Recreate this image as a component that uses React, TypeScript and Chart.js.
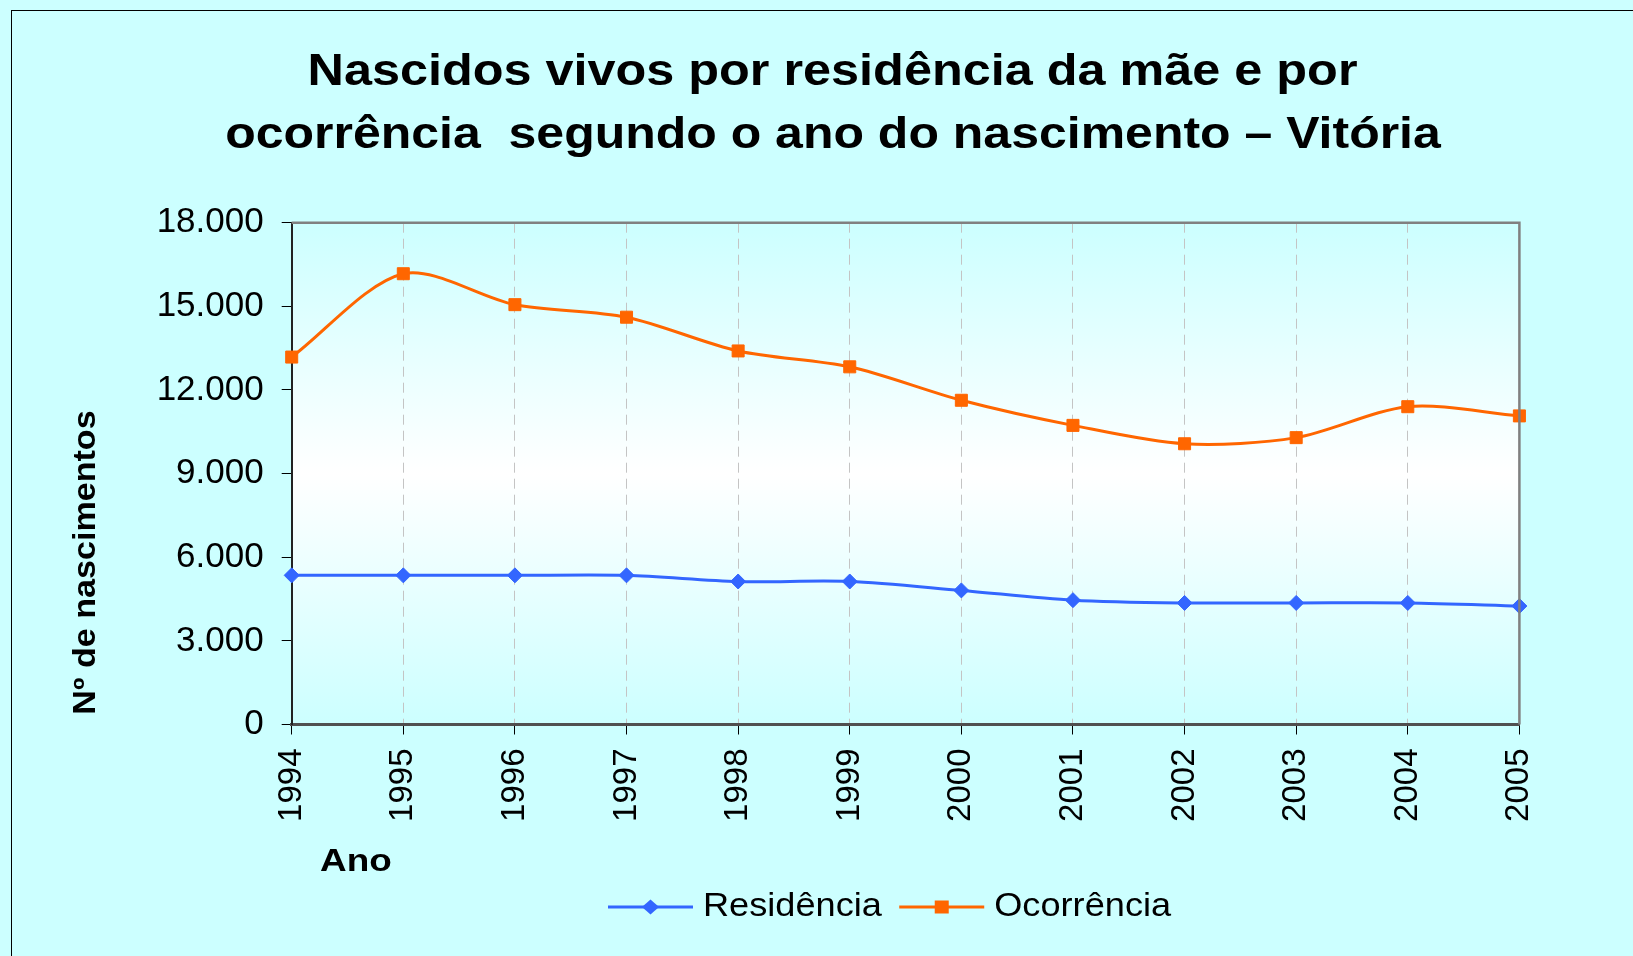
import React, { useEffect, useRef } from 'react';
import { Chart, registerables } from 'chart.js';

Chart.register(...registerables);

// ---- data ----
const years = ['1994', '1995', '1996', '1997', '1998', '1999', '2000', '2001', '2002', '2003', '2004', '2005'];
const residencia = [5350, 5350, 5350, 5350, 5130, 5130, 4810, 4460, 4360, 4360, 4360, 4250];
const ocorrencia = [13180, 16170, 15060, 14610, 13400, 12830, 11630, 10730, 10070, 10290, 11400, 11070];
const yTickLabels = ['0', '3.000', '6.000', '9.000', '12.000', '15.000', '18.000'];
const seriesNames = ['Residência', 'Ocorrência'];
const titleLines = ['Nascidos vivos por residência da mãe e por', 'ocorrência  segundo o ano do nascimento – Vitória'];
const yAxisTitle = 'Nº de nascimentos';
const xAxisTitle = 'Ano';

const FONT = '"Liberation Sans", Arial, sans-serif';
const W = 1633;
const H = 956;

function drawStretched(
  ctx: CanvasRenderingContext2D,
  text: string,
  x: number,
  y: number,
  font: string,
  sx: number,
  align: CanvasTextAlign,
  rotate = false
) {
  ctx.save();
  ctx.font = font;
  ctx.fillStyle = '#000';
  ctx.textBaseline = 'alphabetic';
  ctx.textAlign = align;
  ctx.translate(x, y);
  if (rotate) ctx.rotate(-Math.PI / 2);
  ctx.scale(sx, 1);
  ctx.fillText(text, 0, 0);
  ctx.restore();
}

function drawMarker(ctx: CanvasRenderingContext2D, style: string, cx: number, cy: number, color: string) {
  ctx.save();
  ctx.fillStyle = color;
  ctx.beginPath();
  if (style === 'rectRot') {
    ctx.moveTo(cx - 8.5, cy);
    ctx.lineTo(cx, cy - 7.5);
    ctx.lineTo(cx + 8.5, cy);
    ctx.lineTo(cx, cy + 7.5);
    ctx.closePath();
  } else {
    ctx.rect(cx - 7, cy - 6.5, 14, 13);
  }
  ctx.fill();
  ctx.restore();
}

const decorPlugin = {
  id: 'decor',
  beforeDraw(chart: any) {
    const { ctx, width, height, chartArea: a } = chart;
    ctx.save();
    ctx.fillStyle = '#CCFFFF';
    ctx.fillRect(0, 0, width, height);
    ctx.strokeStyle = '#000';
    ctx.lineWidth = 1;
    ctx.strokeRect(11.5, 10.5, width + 50, height + 50);
    const g = ctx.createLinearGradient(0, a.top, 0, a.bottom);
    g.addColorStop(0, '#CCFFFF');
    g.addColorStop(0.5, '#FFFFFF');
    g.addColorStop(1, '#CCFFFF');
    ctx.fillStyle = g;
    ctx.fillRect(a.left, a.top, a.right - a.left, a.bottom - a.top);
    ctx.restore();
  },
  afterDraw(chart: any) {
    const { ctx, chartArea: a } = chart;
    // top and right frame of plot area
    ctx.save();
    ctx.strokeStyle = '#808080';
    ctx.lineWidth = 2.5;
    ctx.beginPath();
    ctx.moveTo(a.left, a.top);
    ctx.lineTo(a.right, a.top);
    ctx.lineTo(a.right, a.bottom);
    ctx.stroke();
    ctx.restore();

    // title
    drawStretched(ctx, titleLines[0], 832.5, 85, `bold 44px ${FONT}`, 1.145, 'center');
    drawStretched(ctx, titleLines[1], 833, 148, `bold 44px ${FONT}`, 1.136, 'center');

    // axis titles
    drawStretched(ctx, yAxisTitle, 95, 562.5, `bold 31px ${FONT}`, 1.1, 'center', true);
    drawStretched(ctx, xAxisTitle, 320, 870.7, `bold 31px ${FONT}`, 1.19, 'left');

    // legend
    let x = 608;
    const y = 907;
    chart.data.datasets.forEach((ds: any) => {
      ctx.save();
      ctx.strokeStyle = ds.borderColor;
      ctx.lineWidth = 3;
      ctx.beginPath();
      ctx.moveTo(x, y);
      ctx.lineTo(x + 85, y);
      ctx.stroke();
      ctx.restore();
      drawMarker(ctx, ds.pointStyle, x + 42.5, y, ds.borderColor);
      const font = `33px ${FONT}`;
      ctx.save();
      ctx.font = font;
      const tw = ctx.measureText(ds.label).width * 1.096;
      ctx.restore();
      drawStretched(ctx, ds.label, x + 95, y + 9, font, 1.096, 'left');
      x += 95 + tw + 17.3;
    });
  },
};

export default function App() {
  const ref = useRef<HTMLCanvasElement | null>(null);

  useEffect(() => {
    document.body.style.margin = '0';
    const canvas = ref.current;
    if (!canvas) return;
    const chart = new Chart(canvas, {
      type: 'line',
      data: {
        labels: years,
        datasets: [
          {
            label: seriesNames[0],
            data: residencia,
            borderColor: '#3366FF',
            backgroundColor: '#3366FF',
            borderWidth: 3,
            pointStyle: 'rectRot',
            pointRadius: 7.5,
            pointBorderWidth: 1,
            tension: 0.3,
          },
          {
            label: seriesNames[1],
            data: ocorrencia,
            borderColor: '#FF6600',
            backgroundColor: '#FF6600',
            borderWidth: 3,
            pointStyle: 'rect',
            pointRadius: 8.5,
            pointBorderWidth: 1,
            tension: 0.3,
          },
        ],
      },
      options: {
        responsive: false,
        animation: false,
        devicePixelRatio: 1,
        layout: { padding: { left: 0, top: 222.7, right: 113.6, bottom: 0 } },
        plugins: {
          legend: { display: false },
          title: { display: false },
          tooltip: { enabled: false },
        },
        scales: {
          x: {
            type: 'category',
            offset: false,
            afterFit: (scale: any) => {
              scale.height = H - 724.5;
            },
            grid: {
              display: true,
              drawOnChartArea: true,
              color: '#C4C4C4',
              lineWidth: 1,
              drawTicks: true,
              tickLength: 10,
              tickColor: '#000',
              tickWidth: 1,
            },
            border: { display: true, color: '#505050', width: 3, dash: [10, 6] },
            ticks: {
              autoSkip: false,
              minRotation: 90,
              maxRotation: 90,
              padding: 14,
              color: '#000',
              font: { family: FONT, size: 33 },
            },
          },
          y: {
            min: 0,
            max: 18000,
            afterFit: (scale: any) => {
              scale.width = 291.7;
            },
            grid: {
              display: true,
              drawOnChartArea: false,
              drawTicks: true,
              tickLength: 10,
              tickColor: '#000',
              tickWidth: 1,
            },
            border: { display: true, color: '#222', width: 2 },
            ticks: {
              stepSize: 3000,
              padding: 18,
              color: '#000',
              font: { family: FONT, size: 35 },
              callback: (_v: any, i: number) => yTickLabels[i],
            },
          },
        },
      },
      plugins: [decorPlugin],
    });
    return () => chart.destroy();
  }, []);

  return (
    <div style={{ width: W, height: H, margin: 0, padding: 0 }}>
      <canvas ref={ref} width={W} height={H} style={{ display: 'block' }} />
    </div>
  );
}
